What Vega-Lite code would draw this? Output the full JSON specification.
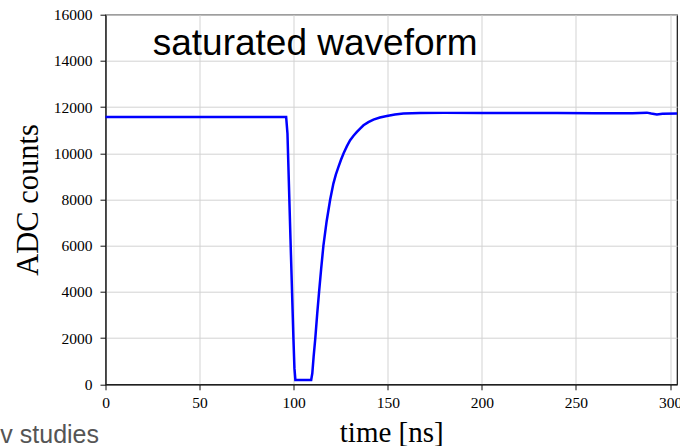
{
  "$schema": "https://vega.github.io/schema/vega-lite/v6.json",
  "width": 571.5,
  "height": 369.6,
  "autosize": {"type": "none"},
  "padding": {"left": 105.5, "top": 14.7, "right": 3, "bottom": 61.7},
  "background": "white",
  "config": {
    "view": {"stroke": "#111111", "strokeWidth": 1.2},
    "axis": {
      "labelFont": "Liberation Serif",
      "labelFontSize": 15.5,
      "labelColor": "black",
      "titleFont": "Liberation Serif",
      "titleFontSize": 29,
      "titleFontWeight": "normal",
      "titleColor": "black",
      "domainColor": "#111111",
      "domainWidth": 1.2,
      "tickColor": "#111111",
      "tickWidth": 1,
      "tickSize": 5.5,
      "gridColor": "#d3d3d3",
      "gridWidth": 1,
      "gridOpacity": 1,
      "format": "d"
    }
  },
  "datasets": {
    "wave": [
      {"t": 0, "v": 11570}, {"t": 10, "v": 11568}, {"t": 20, "v": 11572}, {"t": 30, "v": 11570},
      {"t": 40, "v": 11572}, {"t": 50, "v": 11570}, {"t": 60, "v": 11572}, {"t": 70, "v": 11571},
      {"t": 80, "v": 11573}, {"t": 90, "v": 11572}, {"t": 96.0, "v": 11572}, {"t": 96.7, "v": 10850},
      {"t": 98.3, "v": 6300}, {"t": 99.9, "v": 1900}, {"t": 100.4, "v": 700}, {"t": 100.9, "v": 190},
      {"t": 109.3, "v": 190}, {"t": 109.9, "v": 476}, {"t": 110.6, "v": 1200}, {"t": 111.5, "v": 2000},
      {"t": 112.5, "v": 3050}, {"t": 113.5, "v": 4000}, {"t": 114.6, "v": 5000}, {"t": 115.8, "v": 6000},
      {"t": 117.5, "v": 7050}, {"t": 119.4, "v": 8000}, {"t": 121.1, "v": 8690}, {"t": 122.4, "v": 9080},
      {"t": 123.8, "v": 9410}, {"t": 125.2, "v": 9730}, {"t": 126.6, "v": 10015}, {"t": 128.3, "v": 10310},
      {"t": 130.0, "v": 10565}, {"t": 131.8, "v": 10760}, {"t": 133.6, "v": 10924}, {"t": 135.3, "v": 11070},
      {"t": 137.1, "v": 11213}, {"t": 139.7, "v": 11350}, {"t": 142.4, "v": 11459}, {"t": 145.8, "v": 11550},
      {"t": 149.5, "v": 11615}, {"t": 153.8, "v": 11675}, {"t": 158.3, "v": 11719}, {"t": 167.2, "v": 11745},
      {"t": 180, "v": 11750}, {"t": 200, "v": 11748}, {"t": 220, "v": 11745},
      {"t": 240, "v": 11740}, {"t": 260, "v": 11738}, {"t": 280, "v": 11735}, {"t": 287.7, "v": 11760},
      {"t": 290, "v": 11720}, {"t": 293, "v": 11676}, {"t": 296, "v": 11715}, {"t": 303.7, "v": 11720}
    ],
    "title": [{"x": 25.1, "y": 14270, "label": "saturated waveform"}],
    "footer": [{"x": -3.45, "y": -2525, "label": "v studies"}]
  },
  "layer": [
    {
      "data": {"name": "wave"},
      "mark": {"type": "line", "color": "#0000ff", "strokeWidth": 2.5},
      "encoding": {
        "x": {
          "field": "t", "type": "quantitative",
          "scale": {"domain": [0, 303.7], "nice": false, "zero": false},
          "axis": {"title": "time [ns]", "values": [0, 50, 100, 150, 200, 250, 300], "labelPadding": 6, "titlePadding": 7, "labelFlush": false}
        },
        "y": {
          "field": "v", "type": "quantitative",
          "scale": {"domain": [0, 16000], "nice": false},
          "axis": {"title": "ADC counts", "titleFontSize": 30.5, "values": [0, 2000, 4000, 6000, 8000, 10000, 12000, 14000, 16000], "labelPadding": 8, "titlePadding": 10}
        }
      }
    },
    {
      "data": {"name": "title"},
      "mark": {"type": "text", "font": "Liberation Sans", "fontSize": 37, "align": "left", "baseline": "alphabetic", "color": "black"},
      "encoding": {
        "x": {"field": "x", "type": "quantitative"},
        "y": {"field": "y", "type": "quantitative"},
        "text": {"field": "label"}
      }
    },
    {
      "data": {"name": "footer"},
      "mark": {"type": "text", "font": "Liberation Sans", "fontSize": 25, "align": "right", "baseline": "alphabetic", "color": "#555555", "clip": false},
      "encoding": {
        "x": {"field": "x", "type": "quantitative"},
        "y": {"field": "y", "type": "quantitative"},
        "text": {"field": "label"}
      }
    }
  ]
}
